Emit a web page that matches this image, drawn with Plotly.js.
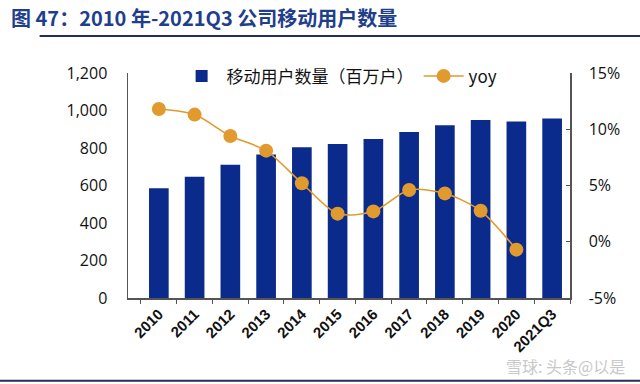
<!DOCTYPE html>
<html><head><meta charset="utf-8">
<script src="https://cdn.plot.ly/plotly-3.0.1.min.js"></script>
<style>body{margin:0;background:#fff}#c{width:640px;height:384px}</style>
</head><body><div id="c"></div>
<script>
const categories = ['2010','2011','2012','2013','2014','2015','2016','2017','2018','2019','2020','2021Q3'];
const users = [585, 647, 711, 766, 804, 821, 848, 885, 921, 949, 941, 958];
const yoyCats = ['2010','2011','2012','2013','2014','2015','2016','2017','2018','2019','2020'];
const yoy = [11.8, 11.3, 9.4, 8.1, 5.2, 2.5, 2.7, 4.6, 4.3, 2.75, -0.7];
const leftTicks = [0,200,400,600,800,1000,1200];
const leftLabels = ['0','200','400','600','800','1,000','1,200'];
const rightTicks = [-5,0,5,10,15];
const rightLabels = ['-5%','0%','5%','10%','15%'];

const fontFam = '"Open Sans", "Liberation Sans", Arial, "Noto Sans CJK SC", sans-serif';
const traces = [
  {type:'bar', x:categories, y:users, name:'移动用户数量（百万户）', marker:{color:'#0A2B8C'}, width:0.55},
  {type:'scatter', mode:'lines+markers', x:yoyCats, y:yoy, yaxis:'y2', name:'yoy',
   line:{color:'#E09A2E', width:1.6, shape:'spline', smoothing:0.8},
   marker:{color:'#E09A2E', size:14}}
];
const layout = {
  width:640, height:384,
  margin:{l:128, r:70, t:73, b:86},
  paper_bgcolor:'#fff', plot_bgcolor:'#fff',
  font:{family:fontFam, color:'#111', size:14},
  showlegend:true,
  legend:{orientation:'h', x:0.11, y:0.985, xanchor:'left', yanchor:'middle', font:{size:17, family:'"Noto Sans CJK SC", "Open Sans", sans-serif'}, bgcolor:'rgba(0,0,0,0)', itemwidth:40, traceorder:'normal'},
  xaxis:{type:'category', tickangle:-45, tickfont:{size:15, family:'"Liberation Sans", Arial', weight:'bold'},
    showline:true, linecolor:'#555', linewidth:1.5, ticks:'outside', tickson:'boundaries', ticklen:4, tickcolor:'#555', showgrid:false},
  yaxis:{range:[0,1200], tickvals:leftTicks, ticktext:leftLabels, showgrid:false, zeroline:false,
    showline:true, linecolor:'#555', linewidth:1.5, ticks:'', tickfont:{size:16}, ticklabelstandoff:16},
  yaxis2:{range:[-5,15], overlaying:'y', side:'right', tickvals:rightTicks, ticktext:rightLabels, showgrid:false, zeroline:false,
    showline:true, linecolor:'#555', linewidth:1.5, ticks:'inside', ticklen:4, tickcolor:'#555', tickfont:{size:16}, ticklabelstandoff:14},
  shapes:[
    {type:'line', xref:'paper', yref:'paper', x0:-0.2, x1:1.2, y0:1.165, y1:1.165, line:{color:'#1F2D6B', width:2}},
    {type:'line', xref:'paper', yref:'paper', x0:-0.3, x1:1.2, y0:-0.368, y1:-0.368, line:{color:'#2A2F55', width:2}}
  ],
  annotations:[
    {text:'<b>图 47：2010 年-2021Q3 公司移动用户数量</b>', xref:'paper', yref:'paper', x:-0.27, y:1.245, xanchor:'left', yanchor:'middle', showarrow:false,
     font:{size:20, color:'#1F3E8C', family:'"Noto Sans CJK SC", "Liberation Sans", sans-serif'}},
    {text:'雪球: 头条@以是', xref:'paper', yref:'paper', x:1.13, y:-0.3, xanchor:'right', yanchor:'middle', showarrow:false,
     font:{size:16, color:'#c8c8c8', family:'"Noto Sans CJK SC", sans-serif'}}
  ]
};
Plotly.newPlot('c', traces, layout, {displayModeBar:false, staticPlot:true});
</script></body></html>
